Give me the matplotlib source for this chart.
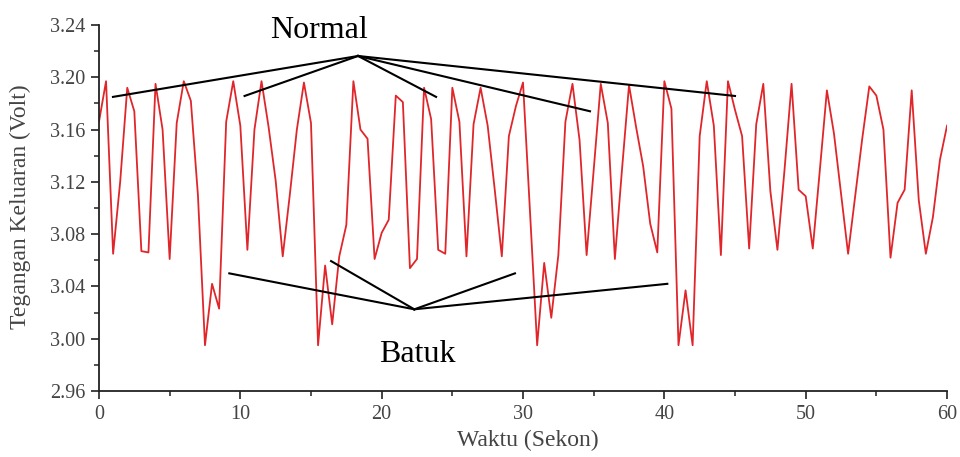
import numpy as np
import matplotlib
matplotlib.use("Agg")
from matplotlib import pyplot as plt
from matplotlib.ticker import MultipleLocator, FormatStrFormatter

# waktu (s), sample every 0.5 s
waktu = np.arange(0, 60.5, 0.5)
tegangan = [
    3.166, 3.197, 3.065, 3.120, 3.192, 3.174, 3.067, 3.066, 3.195, 3.160,
    3.061, 3.165, 3.197, 3.182, 3.110, 2.995, 3.042, 3.023, 3.166, 3.197,
    3.163, 3.068, 3.160, 3.197, 3.162, 3.121, 3.063, 3.110, 3.160, 3.196,
    3.165, 2.995, 3.056, 3.011, 3.063, 3.087, 3.197, 3.160, 3.153, 3.061,
    3.081, 3.091, 3.186, 3.181, 3.054, 3.061, 3.192, 3.168, 3.068, 3.065,
    3.192, 3.166, 3.063, 3.164, 3.192, 3.163, 3.114, 3.063, 3.155, 3.178,
    3.196, 3.096, 2.995, 3.058, 3.016, 3.064, 3.166, 3.195, 3.152, 3.064,
    3.129, 3.195, 3.165, 3.061, 3.129, 3.194, 3.162, 3.132, 3.088, 3.066,
    3.197, 3.176, 2.995, 3.037, 2.995, 3.155, 3.197, 3.163, 3.064, 3.197,
    3.175, 3.155, 3.069, 3.164, 3.195, 3.113, 3.068, 3.129, 3.195, 3.114,
    3.109, 3.069, 3.129, 3.190, 3.157, 3.111, 3.065, 3.109, 3.153, 3.193,
    3.186, 3.160, 3.062, 3.104, 3.114, 3.190, 3.106, 3.065, 3.093, 3.137,
    3.163,
]

# annotation pointer lines (hub -> ends)
normal_hub = (18.33, 3.2163)
normal_ends = [(0.99, 3.185), (10.3, 3.1857), (23.85, 3.185), (34.74, 3.174), (45.0, 3.1857)]
batuk_hub = (22.31, 3.0225)
batuk_ends = [(9.22, 3.050), (16.42, 3.0594), (29.43, 3.050), (40.21, 3.042)]

plt.rcParams['font.family'] = ['Liberation Serif', 'DejaVu Serif']
grey = '#444444'

fig = plt.figure(figsize=(9.6, 4.57), dpi=100)
ax = fig.add_axes([0.1031, 0.1444, 0.8834, 0.8009])

ax.plot(waktu, tegangan, color='#e0262a', lw=1.3)

for ex, ey in normal_ends:
    ax.plot([normal_hub[0], ex], [normal_hub[1], ey], color='black', lw=1.5)
for ex, ey in batuk_ends:
    ax.plot([batuk_hub[0], ex], [batuk_hub[1], ey], color='black', lw=1.5)

ax.text(15.57, 3.230, 'Normal', fontsize=23, ha='center', va='baseline')
ax.text(22.54, 2.982, 'Batuk', fontsize=23, ha='center', va='baseline')

ax.set_xlim(0, 60)
ax.set_ylim(2.96, 3.24)
ax.xaxis.set_major_locator(MultipleLocator(10))
ax.xaxis.set_minor_locator(MultipleLocator(5))
ax.yaxis.set_major_locator(MultipleLocator(0.04))
ax.yaxis.set_minor_locator(MultipleLocator(0.02))
ax.yaxis.set_major_formatter(FormatStrFormatter('%.2f'))

for s in ['top', 'right']:
    ax.spines[s].set_visible(False)
for s in ['left', 'bottom']:
    ax.spines[s].set_linewidth(1.3)
    ax.spines[s].set_color('#222222')
ax.tick_params(which='major', direction='out', length=6, width=1.2, color='#222222',
               labelsize=14.5, labelcolor=grey, pad=4)
ax.tick_params(which='minor', direction='out', length=3.5, width=1.1, color='#222222')

ax.set_xlabel('Waktu (Sekon)', fontsize=17, color=grey, va='center')
ax.xaxis.set_label_coords(0.506, -0.134)
ax.set_ylabel('Tegangan Keluaran (Volt)', fontsize=17, color=grey, va='center')
ax.yaxis.set_label_coords(-0.093, 0.503)

fig.savefig('out.png', dpi=100)
